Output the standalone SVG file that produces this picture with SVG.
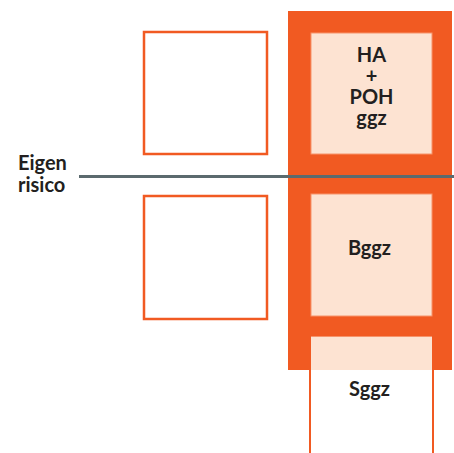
<svg xmlns="http://www.w3.org/2000/svg" width="454" height="453" viewBox="0 0 454 453">
  <style>
    .lbl { font-family: "Lato", "Open Sans", "Liberation Sans", sans-serif; font-weight: 700; font-size: 20px; fill: #231f20; }
    .mid { text-anchor: middle; }
    .empty { fill: #ffffff; stroke: #f15a22; stroke-width: 2.5; }
    .inner { fill: #fde3d2; stroke: #f7936a; stroke-width: 1; }
  </style>

  <!-- white background -->
  <rect x="0" y="0" width="454" height="453" fill="#ffffff"/>

  <!-- orange column -->
  <g id="column">
    <rect x="288" y="11" width="164" height="359" fill="#f15a22"/>
  </g>

  <!-- empty outline boxes on the left -->
  <g id="box-left-top">
    <rect class="empty" x="144" y="32" width="123" height="122"/>
  </g>
  <g id="box-left-bottom">
    <rect class="empty" x="144" y="196" width="123" height="123"/>
  </g>

  <!-- filled boxes in the column -->
  <g id="box-ha-poh">
    <rect class="inner" x="311" y="33" width="121" height="121"/>
    <text class="lbl mid" x="371.5" y="62">HA<tspan x="371.5" dy="21">+</tspan><tspan x="371.5" dy="21">POH</tspan><tspan x="371.5" dy="21">ggz</tspan></text>
  </g>

  <g id="box-bggz">
    <rect class="inner" x="311" y="194" width="121" height="122"/>
    <text class="lbl mid" x="369.5" y="255">Bggz</text>
  </g>

  <g id="box-sggz">
    <rect x="310" y="336" width="123" height="130" fill="#ffffff" stroke="#f15a22" stroke-width="2"/>
    <rect x="311" y="336" width="121" height="34" fill="#fde3d2" stroke="none"/>
    <line x1="311" y1="336.5" x2="432" y2="336.5" stroke="#f7936a" stroke-width="1"/>
    <text class="lbl mid" x="369.5" y="396">Sggz</text>
  </g>

  <!-- risk boundary -->
  <g id="connectors">
    <line x1="79" y1="176.5" x2="454" y2="176.5" stroke="#5b6a6e" stroke-width="3"/>
  </g>

  <g id="label-eigen-risico">
    <text class="lbl" x="18" y="170">Eigen<tspan x="18" dy="22">risico</tspan></text>
  </g>
</svg>
